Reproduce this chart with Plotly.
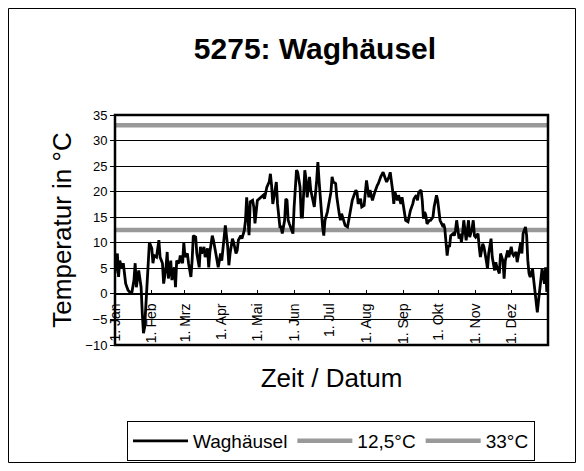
import plotly.graph_objects as go

# ---- data ----
days = [0,2,3,4,6,7,9,11,14,16,17,18,20,22,23,24,25,26,28,29,31,32,33,35,37,38,40,41,43,44,45,47,48,50,51,52,54,55,57,58,59,61,62,64,65,66,68,69,71,72,73,75,76,78,79,80,82,83,85,86,87,89,90,92,93,95,96,97,99,100,102,103,104,106,107,109,110,111,113,114,116,117,118,
        120,123,125,126,128,130,131,132,133,134,136,137,139,140,141,143,144,145,146,147,148,150,151,153,154,156,157,158,160,161,162,164,165,167,168,170,171,172,174,175,176,177,179,180,182,183,184,186,187,189,190,191,193,194,196,197,198,200,201,203,204,205,207,208,210,211,212,214,215,217,218,219,221,222,224,225,226,228,229,231,232,234,235,236,238,239,241,242,243,
        245,247,248,249,251,252,254,255,256,258,259,260,261,262,263,265,266,268,269,271,272,273,274,276,277,278,279,280,281,282,283,285,286,287,288,290,291,292,293,294,296,297,298,299,301,302,303,304,306,307,308,310,311,313,314,315,317,318,320,321,322,324,325,327,328,329,331,332,334,335,336,338,339,341,342,343,344,346,347,348,349,350,352,353,355,356,357,359,360,362,363,364]
temps = [4.0,7.9,3.3,6.5,5.0,6.0,2.0,0.7,0.0,2.7,6.0,1.3,4.6,1.3,-3.8,-7.7,-6.5,-2.6,5.2,10.1,8.9,6.0,7.5,7.2,10.5,7.2,6.0,2.0,5.2,8.2,3.0,6.5,2.7,5.2,1.3,6.5,6.0,7.5,6.0,10.1,7.2,7.9,6.0,3.3,6.5,11.4,11.1,7.9,5.2,9.2,7.9,9.2,7.2,8.9,5.2,8.2,11.4,10.5,7.9,6.5,5.2,7.9,6.5,11.1,13.4,9.2,5.6,7.9,10.8,10.1,7.9,8.5,10.5,11.4,10.8,12.4,14.4,18.9,11.5,18.0,18.3,17.0,13.8,
         18.3,18.9,19.3,18.6,20.9,21.9,23.5,21.2,17.6,18.9,21.9,17.6,13.1,13.1,11.8,14.4,18.6,18.3,14.4,13.7,13.1,11.8,17.0,24.2,23.8,20.9,15.0,15.0,24.2,22.5,18.9,22.9,20.3,17.6,17.0,22.2,25.8,22.2,15.0,13.1,11.4,14.4,16.0,17.6,19.9,22.9,21.9,21.6,18.9,15.7,14.4,15.7,14.4,13.4,13.1,14.1,15.7,18.3,18.9,20.3,19.9,17.6,18.6,17.0,17.3,20.3,22.2,18.9,20.3,18.3,19.3,19.9,21.2,21.6,22.9,23.5,23.8,22.5,21.9,22.9,23.8,20.3,17.6,19.9,18.3,19.3,17.6,18.9,17.6,
         14.4,14.1,15.4,16.3,17.6,18.6,19.3,18.3,19.9,20.3,18.3,14.7,16.0,15.4,13.7,14.4,14.4,15.0,17.0,19.3,18.3,15.7,14.4,13.4,13.7,12.8,9.2,7.5,9.5,9.2,11.4,11.8,11.4,12.4,14.4,10.8,11.8,10.1,11.8,14.4,10.5,12.4,14.4,11.1,12.8,14.4,11.4,11.1,11.8,9.2,7.2,9.8,9.2,6.5,4.9,7.9,10.8,7.2,4.6,6.2,5.2,4.0,7.9,6.5,3.0,6.5,8.5,7.2,9.2,7.9,7.5,8.2,6.2,8.8,10.1,7.9,11.8,13.1,11.4,6.5,4.0,3.3,4.9,2.6,-1.3,-3.6,-1.3,2.6,4.9,2.0,5.2,0.4]

threshold_names = ["12,5°C", "33°C"]
threshold_values = [12.5, 33.0]
year_span = [0, 365]

month_ticks = [0, 31, 59, 90, 120, 151, 181, 212, 243, 273, 304, 334]
month_labels = ["1. Jan", "1. Feb", "1. Mrz", "1. Apr", "1. Mai", "1. Jun",
                "1. Jul", "1. Aug", "1. Sep", "1. Okt", "1. Nov", "1. Dez"]
y_ticks = [-10, -5, 0, 5, 10, 15, 20, 25, 30, 35]

FONT = "Liberation Sans, Arial, sans-serif"
# the page body has an 8px margin, so the figure is 8px smaller and all
# reference pixel positions are taken relative to (8, 8)
OFF = 8
W, H = 584 - OFF, 471 - OFF
ML, MR, MT, MB = 115 - OFF, 584 - 548, 115 - OFF, 471 - 345
YMIN, YMAX = -10, 35

fig = go.Figure()
for i, (nm, v) in enumerate(zip(threshold_names, threshold_values)):
    fig.add_trace(go.Scatter(x=year_span, y=[v, v], mode="lines", name=nm,
                             line=dict(color="#999999", width=4.5),
                             legendrank=2 + i, hoverinfo="skip"))
fig.add_trace(go.Scatter(x=days, y=temps, mode="lines", name="Waghäusel",
                         line=dict(color="#000000", width=2.8), legendrank=1))

pw = W - ML - MR
ph = H - MT - MB
def px_x(p):
    return (p - OFF - ML) / pw
def px_y(p):
    return (H - MB - (p - OFF)) / ph

fig.update_layout(
    width=W, height=H,
    margin=dict(l=ML, r=MR, t=MT, b=MB, autoexpand=False),
    paper_bgcolor="white", plot_bgcolor="white",
    font=dict(family=FONT, color="black"),
    title=dict(text="<b>5275: Waghäusel</b>", x=(315 - OFF) / W, xanchor="center",
               y=1 - (48 - OFF) / H, yanchor="middle", font=dict(size=30)),
    showlegend=True,
    legend=dict(orientation="h", x=px_x(331), xanchor="center",
                y=px_y(441), yanchor="middle", bordercolor="black",
                borderwidth=1, bgcolor="white", font=dict(size=19),
                itemwidth=55, traceorder="normal"),
    xaxis=dict(range=year_span, tickmode="array", tickvals=month_ticks,
               ticktext=month_labels, tickangle=-90, tickfont=dict(size=14),
               ticklabelstandoff=3,
               showgrid=False, zeroline=False, showline=True, linecolor="black",
               linewidth=1, ticks="inside", ticklen=4, tickcolor="black",
               anchor="free", position=(0 - YMIN) / (YMAX - YMIN),
               title=dict(text="Zeit / Datum", font=dict(size=26), standoff=25)),
    yaxis=dict(range=[YMIN, YMAX], tickmode="array", tickvals=y_ticks,
               tickfont=dict(size=13), showgrid=True, gridcolor="#000000",
               gridwidth=1, zeroline=False, showline=False, ticks="outside",
               ticklen=4, tickcolor="black",
               title=dict(text="Temperatur in °C", font=dict(size=26), standoff=6)),
    shapes=[
        dict(type="rect", xref="x domain", yref="y domain", x0=0, x1=1, y0=0, y1=1,
             line=dict(color="black", width=2.5), layer="above"),
        dict(type="rect", xref="paper", yref="paper",
             x0=px_x(8.5), x1=px_x(575.5), y0=px_y(462.5), y1=px_y(8.5),
             line=dict(color="black", width=1), layer="above"),
    ],
)

fig.write_html("out.html")
